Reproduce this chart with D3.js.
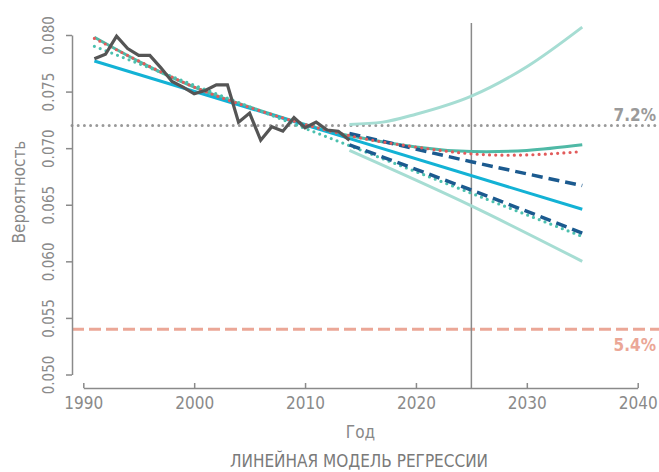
<!DOCTYPE html>
<html>
<head>
<meta charset="utf-8">
<script src="https://cdn.jsdelivr.net/npm/d3@7"></script>
<style>
  body { margin: 0; background: #fff; }
  text { font-family: "Liberation Sans Narrow", "DejaVu Sans Condensed", "Roboto", sans-serif; fill: #888; }
</style>
</head>
<body>
<div id="chart"></div>
<script>
// observed values
var obsYears = [1991, 1992, 1993, 1994, 1995, 1996, 1997, 1998, 1999, 2000, 2001, 2002,
  2003, 2004, 2005, 2006, 2007, 2008, 2009, 2010, 2011, 2012, 2013, 2014];
var obsValues = [0.0779, 0.0783, 0.0799, 0.0788, 0.0782, 0.0782, 0.0771, 0.0759, 0.0754, 0.0748,
  0.0751, 0.0756, 0.0756, 0.0723, 0.0731, 0.0707, 0.0719, 0.0715, 0.0727, 0.0718, 0.0723, 0.0716,
  0.0715, 0.0707];

// linear fit and its interval
var linYears = [1991, 2035];
var linValues = [0.0777, 0.0646];
var ciYears = [2014, 2025, 2035];
var ciUpper = [0.0713, 0.0688, 0.0667];
var ciLower = [0.0703, 0.0663, 0.0625];

// second linear fit (dotted)
var lin2Values = [0.0790, 0.0622];

// quadratic fits
var quadYears = [1991, 2000, 2010, 2014, 2020, 2025, 2030, 2035];
var quadValues = [0.0798, 0.0754, 0.0721, 0.0711, 0.0701, 0.0697, 0.0698, 0.0703];
var quad2Years = [1991, 1995, 2000, 2005, 2010, 2015, 2020, 2025, 2030, 2035];
var quad2Values = [0.0797, 0.0777, 0.0754, 0.0736, 0.0721, 0.0709, 0.0701, 0.0695, 0.0694, 0.0697];

// quadratic prediction band
var piUpperYears = [2014, 2017, 2020, 2025, 2030, 2035];
var piUpper = [0.0721, 0.0723, 0.0730, 0.0746, 0.0772, 0.0807];
var piLowerYears = [2014, 2025, 2035];
var piLower = [0.0698, 0.0649, 0.0600];

var refHigh = 0.072;
var refLow = 0.054;
var markYear = 2025;

var yTicks = [0.050, 0.055, 0.060, 0.065, 0.070, 0.075, 0.080];
var xTicks = [1990, 2000, 2010, 2020, 2030, 2040];

var svg = d3.select("#chart").append("svg")
  .attr("width", 659)
  .attr("height", 472);

var x = d3.scaleLinear().domain([1990, 2040]).range([83.3, 637.7]);
var y = d3.scaleLinear().domain([0.050, 0.080]).range([374.5, 35]);
var axisColor = "#8a8a8a";

function pts(years, values) {
  return years.map(function (yr, i) { return [yr, values[i]]; });
}

function drawLine(data, color, width, dash, curve) {
  var line = d3.line()
    .x(function (d) { return x(d[0]); })
    .y(function (d) { return y(d[1]); })
    .curve(curve || d3.curveLinear);
  var p = svg.append("path")
    .datum(data)
    .attr("d", line)
    .attr("fill", "none")
    .attr("stroke", color)
    .attr("stroke-width", width)
    .attr("stroke-linecap", dash === "dot" ? "round" : "butt");
  if (dash === "dot") p.attr("stroke-dasharray", "0,6.2");
  else if (dash) p.attr("stroke-dasharray", dash);
  return p;
}

// reference lines
svg.append("line")
  .attr("x1", 72).attr("x2", 659)
  .attr("y1", y(refHigh)).attr("y2", y(refHigh))
  .attr("stroke", "#9a9a9a").attr("stroke-width", 3)
  .attr("stroke-linecap", "round").attr("stroke-dasharray", "0,6.2");

svg.append("line")
  .attr("x1", 72).attr("x2", 659)
  .attr("y1", y(refLow)).attr("y2", y(refLow))
  .attr("stroke", "#eba797").attr("stroke-width", 3)
  .attr("stroke-dasharray", "12,5");

svg.append("line")
  .attr("x1", x(markYear)).attr("x2", x(markYear))
  .attr("y1", 23).attr("y2", 388)
  .attr("stroke", "#8a8a8a").attr("stroke-width", 1.5);

svg.append("text")
  .attr("x", 656).attr("y", y(refHigh) - 5)
  .attr("text-anchor", "end")
  .style("font-size", "17px").style("font-weight", "bold").style("fill", "#9a9a9a")
  .text("7.2%");

svg.append("text")
  .attr("x", 656).attr("y", y(refLow) + 22)
  .attr("text-anchor", "end")
  .style("font-size", "17px").style("font-weight", "bold").style("fill", "#eba797")
  .text("5.4%");

// model lines
drawLine(pts(piUpperYears, piUpper), "#a6ddd3", 3, null, d3.curveMonotoneX);
drawLine(pts(piLowerYears, piLower), "#a6ddd3", 3, null, d3.curveMonotoneX);
drawLine(pts(quadYears, quadValues), "#4fb9a6", 3, null, d3.curveNatural);
drawLine(pts(linYears, linValues), "#13b2d5", 3, null);
drawLine(pts(linYears, lin2Values), "#4cc0ae", 3.2, "dot");
drawLine(pts(ciYears, ciUpper), "#1b5a8f", 3.5, "11,6", d3.curveNatural);
drawLine(pts(ciYears, ciLower), "#1b5a8f", 3.5, "11,6", d3.curveNatural);
drawLine(pts(quad2Years, quad2Values), "#e25b5b", 3.2, "dot", d3.curveNatural);
drawLine(pts(obsYears, obsValues), "#555555", 3.2, null).attr("stroke-linejoin", "miter");

// y axis
var gy = svg.append("g")
  .attr("transform", "translate(72,0)")
  .call(d3.axisLeft(y).tickValues(yTicks).tickSize(6).tickSizeOuter(0).tickFormat(d3.format(".3f")));
gy.selectAll("path, line").attr("stroke", axisColor).attr("stroke-width", 1.5);
gy.selectAll("text")
  .attr("x", null).attr("dy", null)
  .attr("transform", "translate(-18.5,0) rotate(-90)")
  .attr("text-anchor", "middle")
  .style("font-size", "15px")
  .style("fill", "#8a8a8a")
  .style("font-family", null);

// x axis
var gx = svg.append("g")
  .attr("transform", "translate(0,388)")
  .call(d3.axisBottom(x).tickValues(xTicks).tickSize(5).tickSizeOuter(0).tickFormat(d3.format("d")));
gx.selectAll("path, line").attr("stroke", axisColor).attr("stroke-width", 1.5);
gx.selectAll("line").attr("y2", -5);
gx.selectAll("text")
  .attr("y", 21).attr("dy", null)
  .style("font-size", "17px")
  .style("fill", "#8a8a8a")
  .style("font-family", null);

// axis labels
svg.append("text")
  .attr("transform", "translate(25,192) rotate(-90)")
  .attr("text-anchor", "middle")
  .style("font-size", "17px")
  .text("Вероятность");

svg.append("text")
  .attr("x", x(2015)).attr("y", 438)
  .attr("text-anchor", "middle")
  .style("font-size", "17px")
  .text("Год");

svg.append("text")
  .attr("x", 359).attr("y", 467)
  .attr("text-anchor", "middle")
  .style("font-size", "17px")
  .style("fill", "#7a7a7a")
  .text("ЛИНЕЙНАЯ МОДЕЛЬ РЕГРЕССИИ");
</script>
</body>
</html>
